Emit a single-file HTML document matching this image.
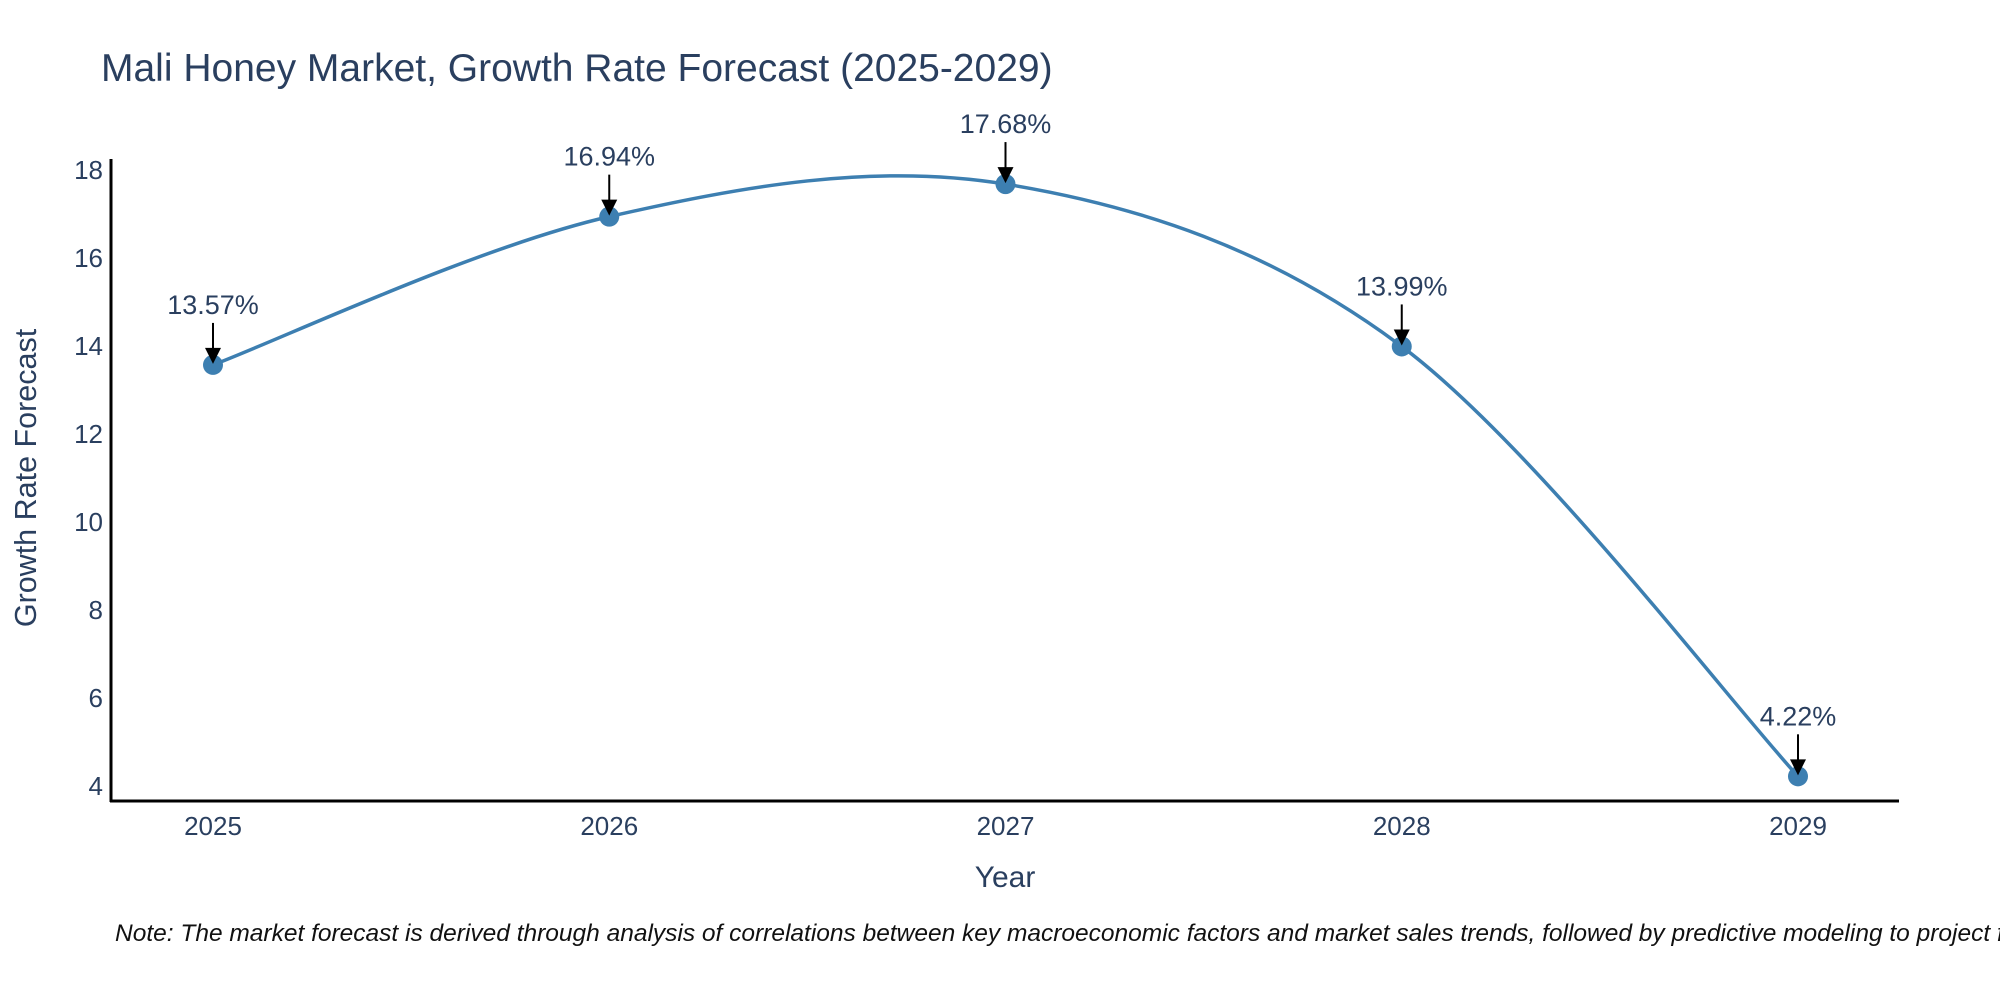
<!DOCTYPE html>
<html><head><meta charset="utf-8"><style>
body{margin:0;background:#fff;overflow:hidden;}
svg{display:block;font-family:"Liberation Sans",sans-serif;}
</style></head><body>
<svg id="chart" width="2000" height="1000">
<text x="101" y="81" font-size="39" fill="#2a3f5f">Mali Honey Market, Growth Rate Forecast (2025-2029)</text>
<text transform="translate(36,478) rotate(-90)" text-anchor="middle" font-size="30.5" fill="#2a3f5f">Growth Rate Forecast</text>
<text x="1005" y="887" text-anchor="middle" font-size="30" fill="#2a3f5f">Year</text>
<text x="115" y="941" font-size="24.5" font-style="italic" fill="#111">Note: The market forecast is derived through analysis of correlations between key macroeconomic factors and market sales trends, followed by predictive modeling to project future sales</text>
<g id="axes"></g>
<g id="series"></g>
</svg>
<script>
const years = [2025, 2026, 2027, 2028, 2029];
const values = [13.57, 16.94, 17.68, 13.99, 4.22];
const labels = ["13.57%", "16.94%", "17.68%", "13.99%", "4.22%"];
const yTicks = [4, 6, 8, 10, 12, 14, 16, 18];

const NS = "http://www.w3.org/2000/svg";
function xs(yr){ return 213 + (yr - 2025) * 396.25; }
function ys(v){ return 786 - (v - 4) * 44; }
function mk(tag, attrs, parent){ const e = document.createElementNS(NS, tag); for (const k in attrs) e.setAttribute(k, attrs[k]); parent.appendChild(e); return e; }
const axes = document.getElementById('axes');
const series = document.getElementById('series');

const yl = mk('line', {x1:111, y1:159, x2:111, y2:802, stroke:'#000', 'stroke-width':3}, axes);


const xl = mk('line', {x1:110, y1:801, x2:1899, y2:801, stroke:'#000', 'stroke-width':3}, axes);



yTicks.forEach(t => {
  const tx = mk('text', {x:103, y:ys(t)+9, 'text-anchor':'end', 'font-size':26, fill:'#2a3f5f'}, axes);
  
  
  tx.textContent = t;
});
years.forEach(yr => {
  const tx = mk('text', {x:xs(yr), y:835, 'text-anchor':'middle', 'font-size':26, fill:'#2a3f5f'}, axes);
  
  
  tx.textContent = yr;
});

const pts = years.map((yr, i) => [xs(yr), ys(values[i])]);
let d = 'M' + pts[0][0] + ',' + pts[0][1];
const k = 1/6;
for (let i = 0; i < pts.length - 1; i++) {
  const p0 = pts[Math.max(i-1,0)], p1 = pts[i], p2 = pts[i+1], p3 = pts[Math.min(i+2,pts.length-1)];
  const c1 = [p1[0] + (p2[0]-p0[0])*k, p1[1] + (p2[1]-p0[1])*k];
  const c2 = [p2[0] - (p3[0]-p1[0])*k, p2[1] - (p3[1]-p1[1])*k];
  d += ' C' + c1 + ' ' + c2 + ' ' + p2;
}
const line = mk('path', {d:d, fill:'none', stroke:'#3d7fb1', 'stroke-width':3.5}, series);



pts.forEach((p, i) => {
  const c = mk('circle', {cx:p[0], cy:p[1], r:10, fill:'#3d7fb1'}, series);
  
  
  const a = mk('line', {x1:p[0], y1:p[1]-42, x2:p[0], y2:p[1]-14, stroke:'#000', 'stroke-width':2}, series);
  
  
  const h = mk('path', {d:'M'+(p[0]-8)+','+(p[1]-17)+' L'+(p[0]+8)+','+(p[1]-17)+' L'+p[0]+','+(p[1]-1)+' Z', fill:'#000'}, series);
  
  
  const t = mk('text', {x:p[0], y:p[1]-51, 'text-anchor':'middle', 'font-size':27, fill:'#2a3f5f'}, series);
  
  
  t.textContent = labels[i];
});
</script>
</body></html>
